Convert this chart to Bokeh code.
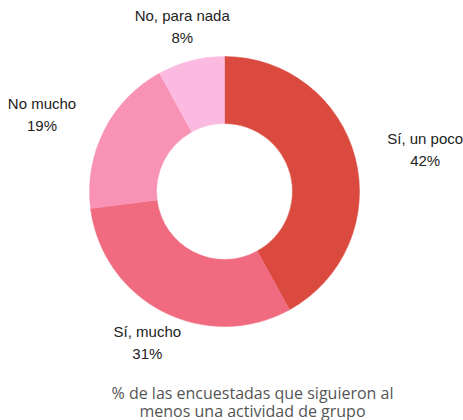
import math
from bokeh.plotting import figure
from bokeh.models import Range1d, ColumnDataSource
from bokeh.core.properties import value
from bokeh.embed import file_html
from bokeh.resources import INLINE

categories = ["Sí, un poco", "Sí, mucho", "No mucho", "No, para nada"]
values = [42, 31, 19, 8]
colors = ["#db4a3f", "#f06b80", "#f993b5", "#fbbbe0"]
caption = ["% de las encuestadas que siguieron al", "menos una actividad de grupo"]

W, H = 463, 420
p = figure(width=W, height=H, output_backend="svg", toolbar_location=None,
           x_range=Range1d(0, W), y_range=Range1d(-H, 0), min_border=0)
p.axis.visible = False
p.grid.visible = False
p.outline_line_color = None

cx, cy = 224, -191
R_out, R_in = 135, 68

total = sum(values)
starts, ends, mids = [], [], []
acc = 0
for v in values:
    a0 = math.pi / 2 - 2 * math.pi * acc / total
    acc += v
    a1 = math.pi / 2 - 2 * math.pi * acc / total
    starts.append(a0)
    ends.append(a1)
    mids.append((a0 + a1) / 2)

src = ColumnDataSource(dict(start=starts, end=ends, color=colors))
p.annular_wedge(x=cx, y=cy, inner_radius=R_in, outer_radius=R_out,
                start_angle="start", end_angle="end", direction="clock",
                fill_color="color", line_color="color", line_width=0.5, source=src)

lab_r = R_out + 35
for name, v, m in zip(categories, values, mids):
    c, s = math.cos(m), math.sin(m)
    lx, ly = cx + lab_r * c, cy + lab_r * s
    if c > 0.5:
        shift = 36
    elif c < -0.5:
        shift = -31
    else:
        shift = 0
    ds = ColumnDataSource(dict(x=[lx + shift, lx + shift], y=[ly + 11, ly - 11],
                               t=[name, f"{v}%"]))
    p.text(x="x", y="y", text="t", source=ds, text_align="center",
           text_baseline="middle", text_font=value("Liberation Sans"),
           text_font_size="15px", text_color="#222222")

cap_src = ColumnDataSource(dict(x=[252, 252], y=[-392, -410], t=caption))
p.text(x="x", y="y", text="t", source=cap_src, text_align="center",
       text_baseline="middle", text_font=value("Open Sans"),
       text_font_size="16px", text_color="#555555")

open("out.html", "w").write(file_html(p, INLINE))
